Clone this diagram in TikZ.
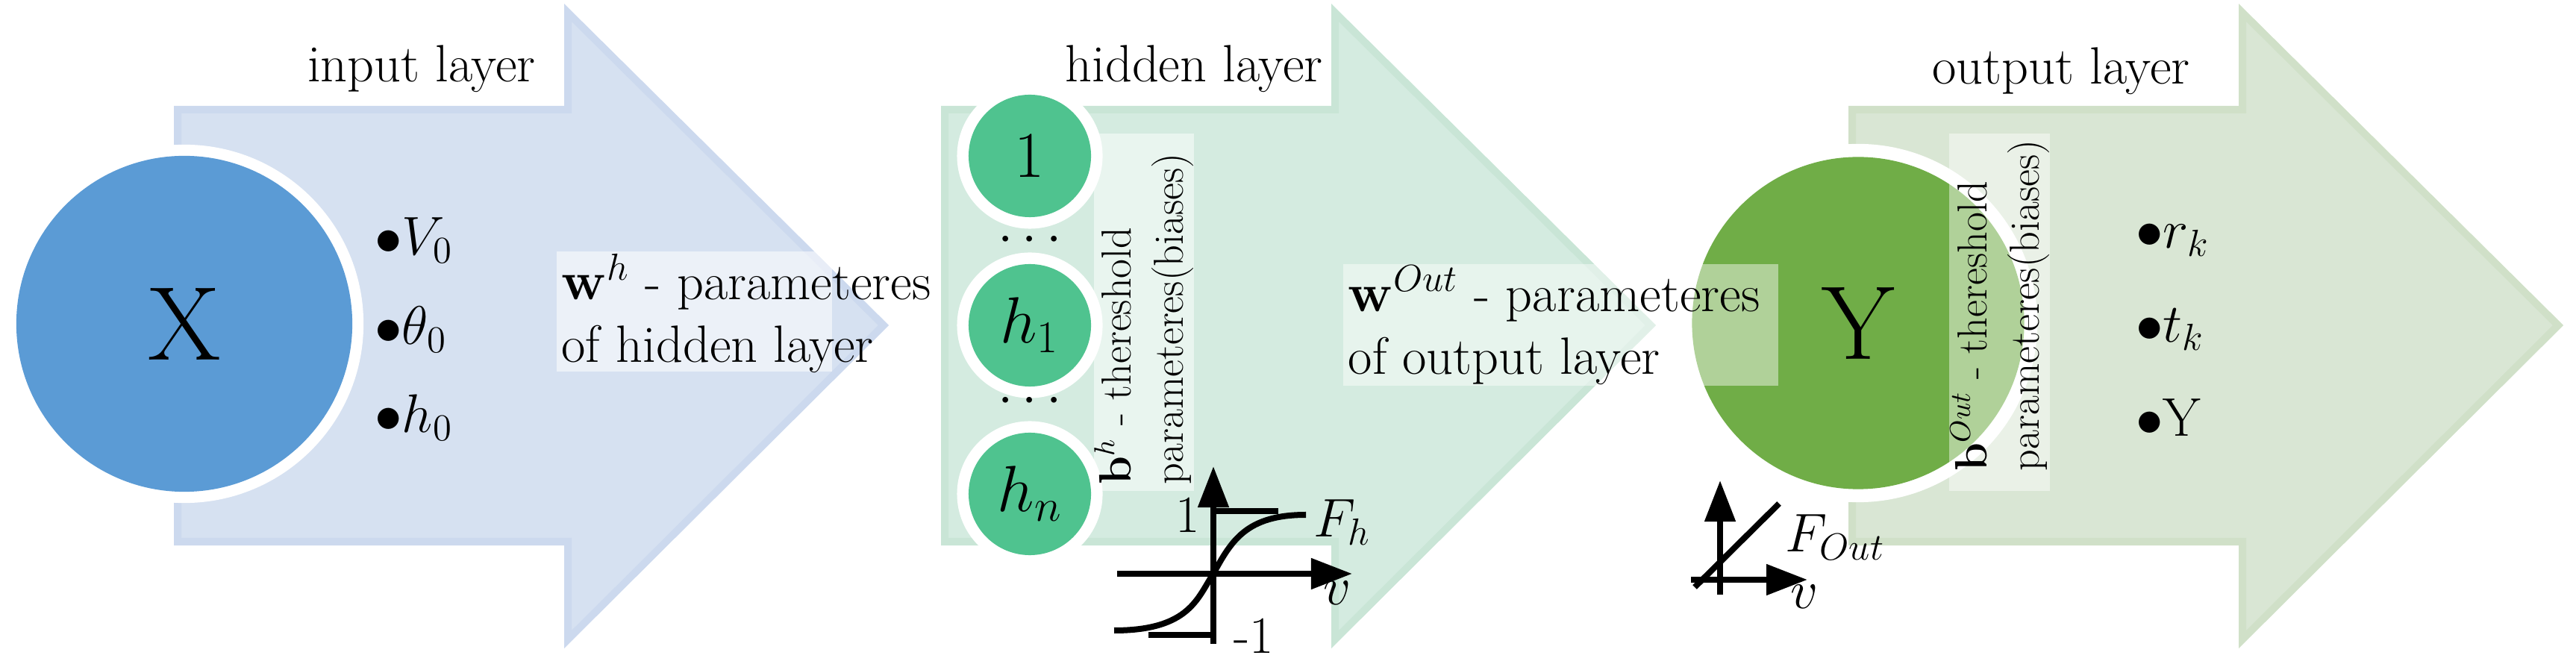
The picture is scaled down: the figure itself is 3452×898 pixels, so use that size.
\documentclass[tikz,border=0pt]{standalone}
\usetikzlibrary{arrows.meta}
\begin{document}
\begin{tikzpicture}[x=0.01cm,y=-0.01cm,
  big/.style={font=\fontsize{20}{24}\selectfont},
  rot/.style={font=\fontsize{16}{20}\selectfont,rotate=90,anchor=west,align=left,inner sep=0pt},
  axis/.style={line width=0.08cm,-{Triangle[length=0.55cm,width=0.4cm]}},
  thk/.style={line width=0.08cm},
  ring/.style={circle,fill=white,draw=none,inner sep=0pt},
  ]
\definecolor{blueA}{HTML}{D6E1F1}\definecolor{blueB}{HTML}{CCD9EE}
\definecolor{blueC}{HTML}{5B9BD5}
\definecolor{greenA}{HTML}{D4EBE0}\definecolor{greenB}{HTML}{C9E5D6}
\definecolor{greenC}{HTML}{4FC38F}
\definecolor{oliveA}{HTML}{D9E6D4}\definecolor{oliveB}{HTML}{D0E0C8}
\definecolor{oliveC}{HTML}{70AD47}
\useasboundingbox (0,0) rectangle (3452,898);
% arrows
\foreach \dx/\fa/\fb in {0/blueA/blueB,1028/greenA/greenB,2244/oliveA/oliveB}{
  \draw[fill=\fa,draw=\fb,line width=0.1cm,line join=miter]
   (238+\dx,147)--(761+\dx,147)--(761+\dx,17)--(1184+\dx,436)--(761+\dx,857)--(761+\dx,726)--(238+\dx,726)--cycle;
}
% labels
\node[big] (lin) at (565,92) {input layer};
\node[big] (lhid) at (1600,92) {hidden layer};
\node[big] (lout) at (2762,95) {output layer};
% input circle
\node[ring,minimum size=4.8cm] (Xr) at (247,434) {};
\node[circle,fill=blueC,minimum size=4.5cm,font=\fontsize{40}{44}\selectfont] (X) at (247,434) {X};
\node[big,anchor=west] (v0) at (490,322) {$\bullet V_0$};
\node[big,anchor=west] (t0) at (490,442) {$\bullet \theta_0$};
\node[big,anchor=west] (h0) at (490,560) {$\bullet h_0$};
% w^h box
\fill[white,opacity=0.55] (746,337) rectangle (1115,498);
\node[big,anchor=west,align=left,inner sep=0pt] (wh) at (752,420) {$\mathbf{w}^{h}$ - parameteres\\of hidden layer};
% hidden circles
\foreach \n/\yy/\t in {c1/209/1,c2/436/h_1,c3/662/h_n}{
  \node[ring,minimum size=1.95cm] at (1380,\yy) {};
  \node[circle,fill=greenC,minimum size=1.64cm,font=\fontsize{24}{28}\selectfont,inner sep=0pt] (\n) at (1380,\yy) {$\t$};
}
\node[big] (d1) at (1380,322) {$\cdots$};
\node[big] (d2) at (1380,538) {$\cdots$};
% b^h box
\fill[white,opacity=0.5] (1466,179) rectangle (1600,658);
\node[rot] (bh) at (1533,650) {$\mathbf{b}^{h}$ - thereshold\\parameteres(biases)};
% F_h graph
\coordinate (hy0) at (1626,863); \coordinate (hy1) at (1626,625);
\coordinate (hx0) at (1497,769); \coordinate (hx1) at (1812,769);
\draw[axis] (hy0) -- (hy1);
\draw[axis] (hx0) -- (hx1);
\draw[thk] (1626,685) -- (1713,685);
\draw[thk] (1539,851) -- (1626,851);
\draw[thk] (1493,845) .. controls (1595,845) and (1605,800) .. (1626,769)
   .. controls (1650,725) and (1670,690) .. (1750,690);
\node[big] (one) at (1592,690) {1};
\node[big] (mone) at (1680,852) {-1};
\node[big,anchor=west] (Fh) at (1748,700) {$F_h$};
\node[big] (vh) at (1792,795) {$v$};
% Y circle
\node[ring,minimum size=4.8cm] at (2490,433) {};
\node[circle,fill=oliveC,minimum size=4.45cm,font=\fontsize{40}{44}\selectfont] (Y) at (2490,433) {Y};
\fill[white,opacity=0.45] (1800,354) rectangle (2383,517);
\node[big,anchor=west,align=left,inner sep=0pt] (wo) at (1806,436) {$\mathbf{w}^{Out}$ - parameteres\\of output layer};
\fill[white,opacity=0.45] (2612,179) rectangle (2747,658);
\node[rot] (bo) at (2680,632) {$\mathbf{b}^{Out}$ - thereshold\\parameteres(biases)};
\node[big,anchor=west] (rk) at (2850,322) {$\bullet r_k$};
\node[big,anchor=west] (tk) at (2850,442) {$\bullet t_k$};
\node[big,anchor=west] (yk) at (2850,560) {$\bullet \mathrm{Y}$};
% F_Out graph
\coordinate (oy0) at (2305,797); \coordinate (oy1) at (2305,644);
\coordinate (ox0) at (2266,777); \coordinate (ox1) at (2422,777);
\draw[axis] (oy0) -- (oy1);
\draw[axis] (ox0) -- (ox1);
\draw[thk] (2271,787) -- (2384,675);
\node[big,anchor=west] (Fo) at (2380,720) {$F_{Out}$};
\node[big] (vo) at (2418,800) {$v$};
\end{tikzpicture}
\end{document}
